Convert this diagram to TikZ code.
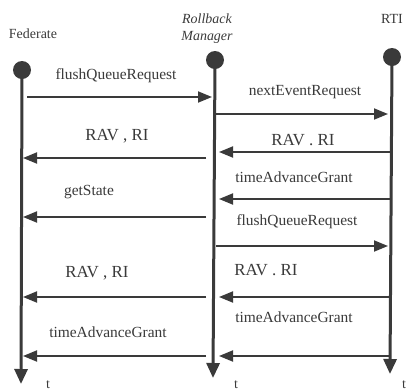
\documentclass[tikz,border=0pt]{standalone}
\usepackage{fontspec}
\setmainfont{Liberation Serif}
\usetikzlibrary{arrows.meta}
\definecolor{ink}{HTML}{3A3A3A}
\begin{document}
\begin{tikzpicture}[x=1bp,y=-1bp,
  life/.style={draw=ink, line width=3bp, -{Triangle[length=15bp,width=13bp]}},
  msg/.style={draw=ink, line width=1.8bp, -{Triangle[length=14bp,width=11bp]}},
  lifedot/.style={circle, fill=ink, inner sep=0pt, minimum size=18bp},
  lbl/.style={text=ink, font=\fontsize{15.5}{18}\selectfont, inner sep=0pt, anchor=base},
  rav/.style={text=ink, font=\fontsize{17}{20}\selectfont, inner sep=0pt, anchor=base},
  hdr/.style={text=ink, font=\fontsize{14}{16}\selectfont, inner sep=0pt, anchor=base},
  hdri/.style={text=ink, font=\fontsize{14}{16}\selectfont\itshape, inner sep=0pt, anchor=base}]
\useasboundingbox (0,0) rectangle (410,391);
\fill[white] (0,0) rectangle (410,391);

% headers
\node[hdr] (hfed) at (33,38) {Federate};
\node[hdri] (hrb) at (207,23) {Rollback};
\node[hdri] (hmg) at (207,40) {Manager};
\node[hdr] (hrti) at (392,23) {RTI};

% lifelines
\node[lifedot] (fed) at (22,70) {};
\node[lifedot] (rm) at (215,60) {};
\node[lifedot] (rti) at (392,57) {};
\coordinate (fedE) at (21,384);
\coordinate (rmE) at (213,378);
\coordinate (rtiE) at (390,374);
\draw[life] (fed.center) -- (fedE);
\draw[life] (rm.center) -- (rmE);
\draw[life] (rti.center) -- (rtiE);

% message end points
\coordinate (a1) at (27,97);   \coordinate (b1) at (212,97);
\coordinate (a2) at (216,114); \coordinate (b2) at (388,114);
\coordinate (a3) at (206,158); \coordinate (b3) at (23,158);
\coordinate (a4) at (391,152); \coordinate (b4) at (219,152);
\coordinate (a5) at (391,199); \coordinate (b5) at (219,199);
\coordinate (a6) at (206,217); \coordinate (b6) at (23,217);
\coordinate (a7) at (216,246); \coordinate (b7) at (388,246);
\coordinate (a8) at (206,297); \coordinate (b8) at (23,297);
\coordinate (a9) at (391,297); \coordinate (b9) at (219,297);
\coordinate (a10) at (206,356); \coordinate (b10) at (23,356);
\coordinate (a11) at (391,356); \coordinate (b11) at (219,356);

\foreach \i in {1,...,11} { \draw[msg] (a\i) -- (b\i); }

% labels
\node[lbl] (l1) at (116,79) {flushQueueRequest};
\node[lbl] (l2) at (305,95) {nextEventRequest};
\node[rav] (l3) at (117,140) {RAV , RI};
\node[rav] (l4) at (303,145) {RAV . RI};
\node[lbl] (l5) at (294,182) {timeAdvanceGrant};
\node[lbl] (l6) at (89,195) {getState};
\node[lbl] (l7) at (297,225) {flushQueueRequest};
\node[rav] (l8) at (97,277) {RAV , RI};
\node[rav] (l9) at (266,275) {RAV . RI};
\node[lbl] (l10) at (108,337) {timeAdvanceGrant};
\node[lbl] (l11) at (294,322) {timeAdvanceGrant};

% time labels
\node[hdr] (t1) at (48,388) {t};
\node[hdr] (t2) at (236,388) {t};
\node[hdr] (t3) at (404,388) {t};
\end{tikzpicture}
\end{document}
